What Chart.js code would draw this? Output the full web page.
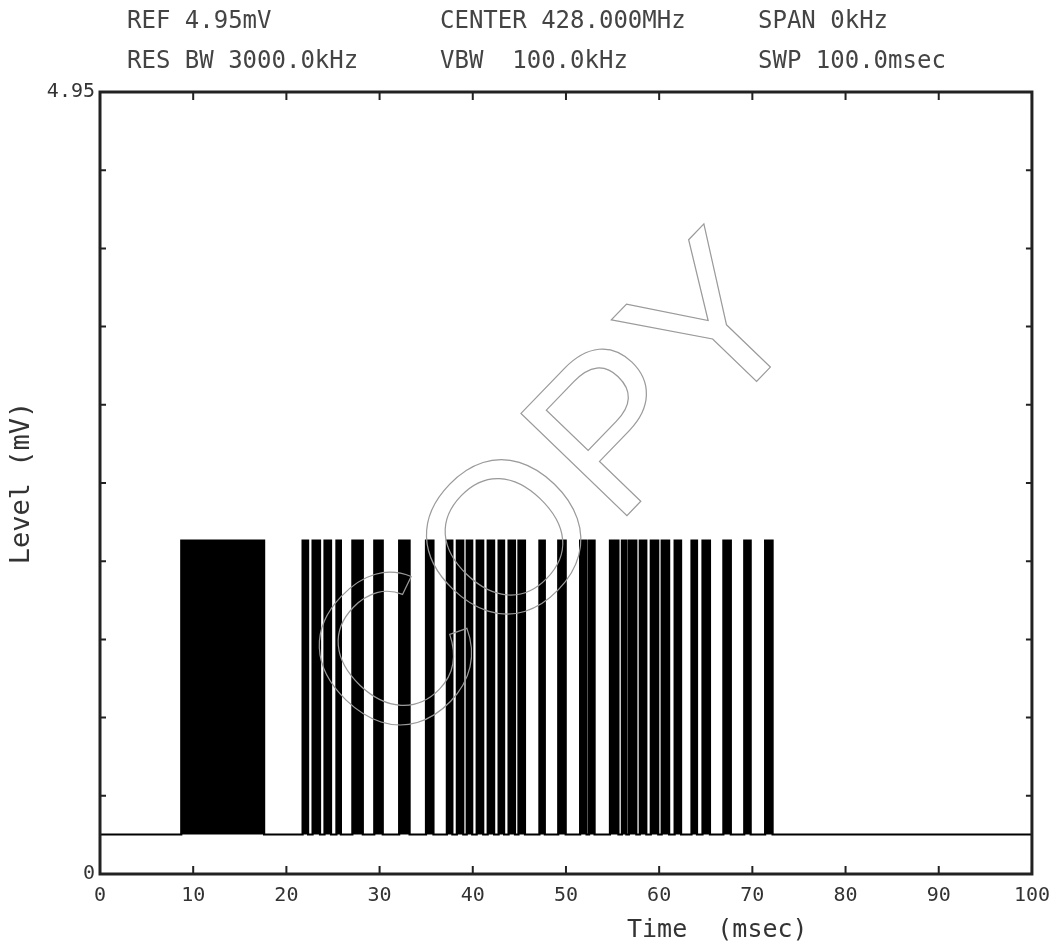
<!DOCTYPE html>
<html>
<head>
<meta charset="utf-8">
<script src="https://cdn.jsdelivr.net/npm/chart.js@4.4.0/dist/chart.umd.min.js"></script>
<style>
body { margin: 0; background: #fff; }
#wrap { position: relative; width: 1060px; height: 947px; }
.hdr { position: absolute; font: 24px 'DejaVu Sans Mono', monospace; color: #444; white-space: pre; }
#xtitle { font-size: 25px; color: #333; }
</style>
</head>
<body>
<div id="wrap">
    <canvas id="chartTrace" width="1060" height="947"></canvas>
    <div class="hdr" style="left:127px;top:6px">REF 4.95mV</div>
    <div class="hdr" style="left:440px;top:6px">CENTER 428.000MHz</div>
    <div class="hdr" style="left:758px;top:6px">SPAN 0kHz</div>
    <div class="hdr" style="left:127px;top:46px">RES BW 3000.0kHz</div>
    <div class="hdr" style="left:440px;top:46px">VBW  100.0kHz</div>
    <div class="hdr" style="left:758px;top:46px">SWP 100.0msec</div>
    <div class="hdr" id="xtitle" style="left:627px;top:914px">Time  (msec)</div>
</div>
<script>
/* ---------------- DATA (msec / mV) ---------------- */
const burstStart = [8.72, 21.74, 22.81, 24.09, 25.37, 27.08, 29.43, 32.10, 34.98, 37.22,
                    38.29, 39.35, 40.42, 41.60, 42.77, 43.84, 44.90, 47.15, 49.17, 51.52,
                    52.48, 54.72, 56.00, 56.75, 57.92, 59.10, 60.27, 61.66, 63.47, 64.65,
                    66.89, 69.13, 71.37];
const burstEnd   = [17.61, 22.33, 23.61, 24.79, 25.85, 28.20, 30.34, 33.22, 35.78, 37.81,
                    38.98, 39.94, 41.12, 42.29, 43.36, 44.53, 45.60, 47.73, 49.97, 52.21,
                    53.07, 55.63, 56.48, 57.55, 58.62, 59.90, 61.07, 62.35, 64.06, 65.45,
                    67.69, 69.82, 72.17];
const baseLevel = 0.25;
const pulseLevel = 2.11;
const sweepRange = [0, 100];
const refLevel = 4.95;
const yTickLabels = ["0", "4.95"];

/* build the trace from the bursts */
const trace = [{x: sweepRange[0], y: baseLevel}];
burstStart.forEach((s, i) => {
    trace.push({x: s, y: baseLevel});
    trace.push({x: s, y: pulseLevel});
    trace.push({x: burstEnd[i], y: pulseLevel});
    trace.push({x: burstEnd[i], y: baseLevel});
});
trace.push({x: sweepRange[1], y: baseLevel});

const MONO = "'DejaVu Sans Mono', monospace";

/* ---------------- FRAME + INNER TICKS ---------------- */
const framePlugin = {
    id: "frame",
    afterDatasetsDraw(chart) {
        // faint "COPY" stamp over the trace
        const ctx = chart.ctx;
        ctx.save();
        ctx.translate(560, 500);
        ctx.rotate(-46 * Math.PI / 180);
        ctx.font = "214px 'Liberation Sans', sans-serif";
        ctx.textAlign = "center";
        ctx.textBaseline = "middle";
        ctx.strokeStyle = "#9a9a9a";
        ctx.lineWidth = 1.2;
        ctx.strokeText("COPY", 0, 0);
        ctx.restore();
    },
    afterDraw(chart) {
        const {ctx, chartArea: a, scales: {x, y}} = chart;
        ctx.save();
        ctx.strokeStyle = "#222";
        ctx.lineWidth = 2;
        ctx.beginPath();
        x.ticks.forEach(t => {
            const px = x.getPixelForValue(t.value);
            ctx.moveTo(px, a.bottom); ctx.lineTo(px, a.bottom - 8);
            ctx.moveTo(px, a.top); ctx.lineTo(px, a.top + 8);
        });
        y.ticks.forEach(t => {
            const py = y.getPixelForValue(t.value);
            ctx.moveTo(a.left, py); ctx.lineTo(a.left + 6, py);
            ctx.moveTo(a.right, py); ctx.lineTo(a.right - 6, py);
        });
        ctx.stroke();
        ctx.lineWidth = 3;
        ctx.strokeRect(a.left, a.top, a.width, a.height);
        ctx.restore();
    }
};

new Chart(document.getElementById("chartTrace"), {
    type: "line",
    data: {
        datasets: [{
            label: "Level",
            data: trace,
            borderColor: "#000",
            borderWidth: 2.2,
            backgroundColor: "#000",
            fill: {value: baseLevel},
            pointRadius: 0,
            tension: 0
        }]
    },
    options: {
        responsive: false,
        animation: false,
        devicePixelRatio: 1,
        layout: {padding: {top: 92, right: 23, left: 4, bottom: 0}},
        plugins: {legend: {display: false}, tooltip: {enabled: false}},
        scales: {
            x: {
                type: "linear",
                min: sweepRange[0],
                max: sweepRange[1],
                afterFit: s => { s.height = 73; },
                grid: {display: false, drawTicks: false},
                border: {display: false},
                ticks: {stepSize: 10, maxRotation: 0, autoSkip: false, padding: 10,
                        color: "#333", font: {family: MONO, size: 20}}
            },
            y: {
                min: 0,
                max: refLevel,
                afterFit: s => { s.width = 96; },
                grid: {display: false, drawTicks: false},
                border: {display: false},
                ticks: {count: 11, padding: 5, color: "#333",
                        font: {family: MONO, size: 20},
                        callback: (v, i, arr) => i === 0 ? yTickLabels[0] : (i === arr.length - 1 ? yTickLabels[1] : "")},
                title: {display: true, text: "Level (mV)", color: "#333",
                        font: {family: MONO, size: 27}, padding: {top: 2, bottom: 0}}
            }
        }
    },
    plugins: [framePlugin]
});
</script>
</body>
</html>
